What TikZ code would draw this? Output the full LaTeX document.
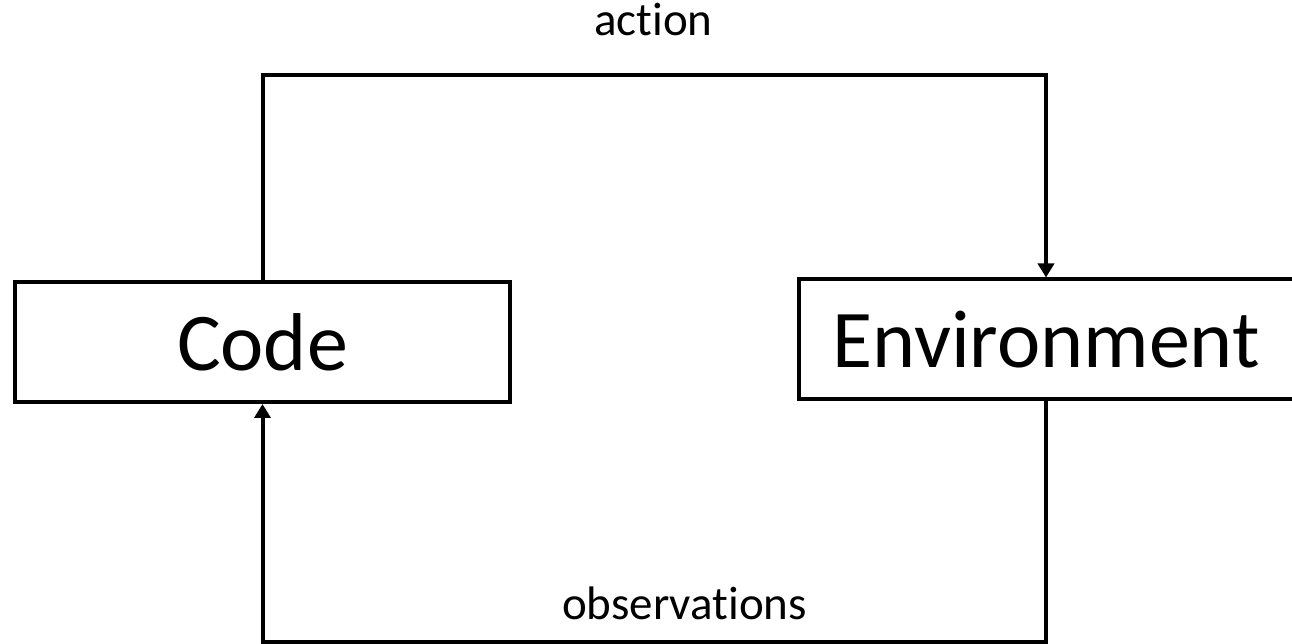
\documentclass[tikz,border=0pt]{standalone}
\usepackage{fontspec}
\setmainfont{Carlito}[Ligatures=NoCommon]
\usetikzlibrary{arrows.meta,positioning}

\begin{document}
\begin{tikzpicture}[x=1pt,y=1pt,
  block/.style={draw,line width=4pt,minimum width=495pt,minimum height=120pt,
    inner sep=0pt,font=\fontsize{82}{98}\selectfont},
  link/.style={line width=4pt,-{Triangle[width=16pt,length=14pt]}},
  lbl/.style={anchor=base,font=\fontsize{47}{56}\selectfont}]
\useasboundingbox (0,0) rectangle (1292,644);
\node[block] (code) at (262.5,302) {Code};
\node[block] (env) at (1046,304.5) {Environment};
\coordinate (top) at (653,569);
\coordinate (bot) at (684,2);
\draw[link] (code.north) |- (top) -| (env.north);
\draw[link] (env.south) |- (bot) -| (code.south);
\node[lbl] (act) at (653.5,608) {action};
\node[lbl] (obs) at (684.5,24) {observations};
\end{tikzpicture}
\end{document}
